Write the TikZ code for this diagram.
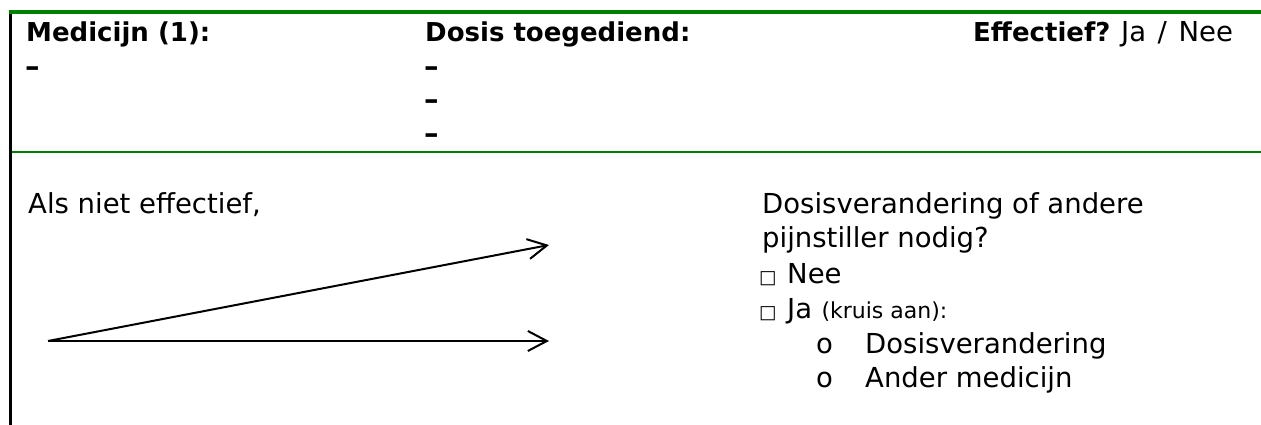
\documentclass[tikz,border=0pt]{standalone}
\usepackage{fontspec}
\setmainfont{DejaVu Sans}
\usetikzlibrary{arrows.meta}
\definecolor{rulegreen}{RGB}{0,128,0}
\tikzset{
  headtext/.style={inner sep=0pt, anchor=base west, font=\fontsize{26}{32}\selectfont\bfseries},
  dashtext/.style={inner sep=0pt, anchor=base west, font=\fontsize{29}{32}\selectfont\bfseries},
  bodytext/.style={inner sep=0pt, anchor=base west, font=\fontsize{27.5}{33}\selectfont},
  smalltext/.style={inner sep=0pt, anchor=base west, font=\fontsize{22}{26}\selectfont},
  boxmark/.style={inner sep=0pt, anchor=base west, font=\fontsize{18.5}{22}\selectfont},
  flow/.style={line width=2pt, -{Straight Barb[length=19pt, width=20pt, line width=2pt]}},
}
\begin{document}
\begin{tikzpicture}[x=1pt, y=-1pt]
\useasboundingbox (0,0) rectangle (1261,425);

% table frame
\draw[line width=3pt] (10,12) -- (10,425);
\draw[rulegreen, line width=3.5pt] (8.5,12) -- (1261,12);
\draw[rulegreen, line width=2.5pt] (11.5,152) -- (1261,152);

% header row
\node[headtext] (med) at (26,42) {Medicijn (1):};
\node[dashtext] (meddash) at (25,77) {–};
\node[headtext] (dose) at (425,42) {Dosis toegediend:};
\node[dashtext] (dosedasha) at (424,77) {–};
\node[dashtext] (dosedashb) at (424,110) {–};
\node[dashtext] (dosedashc) at (424,144) {–};
\node[headtext] (eff) at (973,42) {Effectief?};
\node[bodytext] (yesno) at (1121,42) {Ja\hspace{0.42em}/\hspace{0.42em}Nee};

% second row, left
\node[bodytext] (ifnot) at (28,213) {Als niet effectief,};
\coordinate (src) at (48,341);
\coordinate (tipup) at (549,245);
\coordinate (tiplow) at (549,341);
\draw[flow] (src) -- (tipup);
\draw[flow] (src) -- (tiplow);

% second row, right
\node[bodytext] (qa) at (762,213) {Dosisverandering of andere};
\node[bodytext] (qb) at (762,247) {pijnstiller nodig?};
\node[boxmark] (boxno) at (759,283) {□};
\node[bodytext] (no) at (787,283) {Nee};
\node[boxmark] (boxyes) at (759,318) {□};
\node[bodytext] (yes) at (787,318) {Ja};
\node[smalltext] (tick) at ([xshift=9pt]yes.base east) {(kruis aan):};
\node[bodytext] (bula) at (816,353) {o};
\node[bodytext] (opta) at (865,353) {Dosisverandering};
\node[bodytext] (bulb) at (816,387) {o};
\node[bodytext] (optb) at (865,387) {Ander medicijn};
\end{tikzpicture}
\end{document}
